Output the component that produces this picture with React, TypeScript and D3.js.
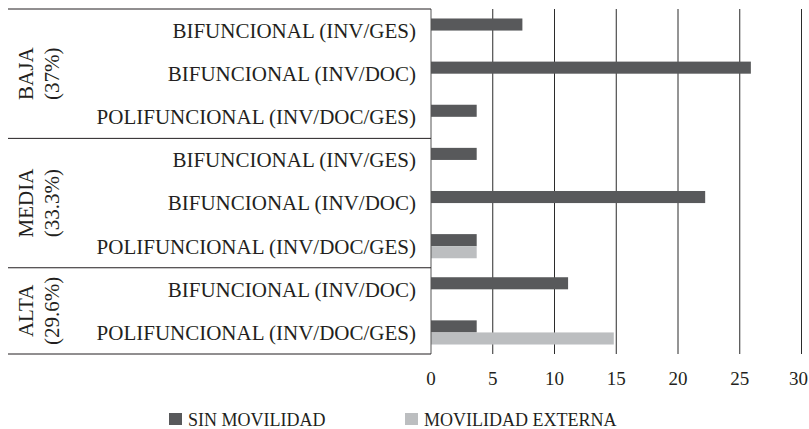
import React from 'react';
import * as d3 from 'd3';

const categories = [
  'BIFUNCIONAL (INV/GES)',
  'BIFUNCIONAL (INV/DOC)',
  'POLIFUNCIONAL (INV/DOC/GES)',
  'BIFUNCIONAL (INV/GES)',
  'BIFUNCIONAL (INV/DOC)',
  'POLIFUNCIONAL (INV/DOC/GES)',
  'BIFUNCIONAL (INV/DOC)',
  'POLIFUNCIONAL (INV/DOC/GES)',
];
const groupNames = ['BAJA', 'MEDIA', 'ALTA'];
const groupShares = ['(37%)', '(33.3%)', '(29.6%)'];
const groupSizes = [3, 3, 2];
const seriesNames = ['SIN MOVILIDAD', 'MOVILIDAD EXTERNA'];
const sinMovilidad = [7.4, 25.9, 3.7, 3.7, 22.2, 3.7, 11.1, 3.7];
const movilidadExterna = [0, 0, 0, 0, 0, 3.7, 0, 14.8];
const xTicks = [0, 5, 10, 15, 20, 25, 30];

const colors = ['#58595b', '#bcbec0'];
const ink = '#231f20';
const font = '"Liberation Serif", "Times New Roman", serif';

const width = 809;
const height = 429;
const margin = { top: 9, right: 8, bottom: 75, left: 431 };
const boxLeft = 8;

export default function App() {
  const ids = categories.map((_, i) => String(i));
  const x = d3.scaleLinear().domain([0, 30]).range([margin.left, 801.5]);
  const y = d3.scaleBand().domain(ids).range([margin.top, height - margin.bottom]).paddingInner(0.44).paddingOuter(0.22);
  const step = y.step();
  const sub = d3.scaleBand().domain(seriesNames).range([0, y.bandwidth()]);
  const values = [sinMovilidad, movilidadExterna];
  const yTop = margin.top;
  const yBottom = height - margin.bottom;

  // group boundaries
  const bounds: number[] = [];
  let acc = 0;
  groupSizes.forEach(n => { bounds.push(yTop + acc * step); acc += n; });
  bounds.push(yTop + acc * step);

  return (
    <svg width={width} height={height} style={{ position: 'absolute', left: 0, top: 0, display: 'block', background: '#fff' }}
      fontFamily={font} fill={ink}>
      {/* gridlines */}
      {xTicks.filter(t => t > 0).map(t => (
        <line key={t} x1={x(t)} x2={x(t)} y1={yTop} y2={yBottom} stroke="#2b2b2b" strokeWidth={1} />
      ))}
      {/* bars */}
      {values.map((vals, s) => vals.map((v, i) => v > 0 ? (
        <rect key={`${s}-${i}`} x={x(0)} width={x(v) - x(0)}
          y={(y(String(i)) ?? 0) + (sub(seriesNames[s]) ?? 0)} height={sub.bandwidth()}
          fill={colors[s]} />
      ) : null))}
      {/* axis line */}
      <line x1={x(0)} x2={x(0)} y1={yTop} y2={yBottom} stroke="#555" strokeWidth={1} />
      {/* category box lines */}
      {bounds.map((b, i) => (
        <line key={i} x1={boxLeft} x2={x(0)} y1={b} y2={b} stroke={ink} strokeWidth={1} />
      ))}
      {/* category labels */}
      {categories.map((c, i) => (
        <text key={i} x={x(0) - 15} y={(y(String(i)) ?? 0) + y.bandwidth() / 2} dy="0.35em"
          textAnchor="end" fontSize={21}>{c}</text>
      ))}
      {/* group labels */}
      {groupNames.map((g, i) => {
        const cy = (bounds[i] + bounds[i + 1]) / 2;
        return (
          <g key={g} transform={`translate(0,${cy}) rotate(-90)`}>
            <text x={0} y={33} textAnchor="middle" fontSize={21}>{g}</text>
            <text x={0} y={59} textAnchor="middle" fontSize={21}>{groupShares[i]}</text>
          </g>
        );
      })}
      {/* x tick labels (last one kept inside the edge) */}
      {xTicks.map(t => {
        const last = t === xTicks[xTicks.length - 1];
        return (
          <text key={t} x={last ? width - 1 : x(t)} y={385} textAnchor={last ? 'end' : 'middle'} fontSize={19}>{t}</text>
        );
      })}
      {/* legend */}
      {seriesNames.map((s, i) => {
        const lx = i === 0 ? 169 : 405;
        return (
          <g key={s}>
            <rect x={lx} y={413} width={13} height={12} fill={colors[i]} />
            <text x={lx + 19} y={425.5} fontSize={18}>{s}</text>
          </g>
        );
      })}
    </svg>
  );
}
